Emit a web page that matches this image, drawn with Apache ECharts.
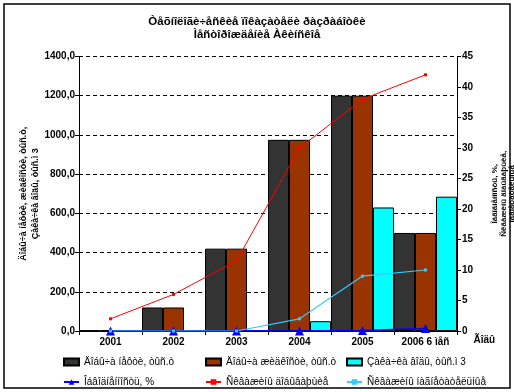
<!DOCTYPE html>
<html><head><meta charset="utf-8">
<script src="https://cdn.jsdelivr.net/npm/echarts@6/dist/echarts.min.js"></script>
<style>html,body{margin:0;padding:0;background:#fff}#c{width:514px;height:392px}</style>
</head><body><div id="c"></div>
<script>
const categories = ['2001','2002','2003','2004','2005','2006 6 ìåñ'];
const oilProd = [3, 120, 420, 975, 1200, 500];
const liquidProd = [3, 120, 420, 975, 1200, 500];
const waterInj = [0, 0, 0, 50, 630, 685];
const waterCut = [0, 0, 0, 0, 0.1, 0.4];
const prodWells = [2, 6, 11.5, 30, 38, 42];
const injWells = [0, 0, 0, 2, 9, 10];
const titleLines = ['Òåõíîëîãè÷åñêèå ïîêàçàòåëè ðàçðàáîòêè', 'Ìåñòîðîæäåíèå Àêèíñêîå'];
const names = ['Äîáû÷à íåôòè, òûñ.ò','Äîáû÷à æèäêîñòè, òûñ.ò','Çàêà÷êà âîäû, òûñ.ì 3','Îáâîäíåííîñòü, %','Ñêâàæèíû äîáûâàþùèå','Ñêâàæèíû íàãíåòàòåëüíûå'];

const F = '"Liberation Sans", Arial, sans-serif';
const chart = echarts.init(document.getElementById('c'));
const legendPos = [[58,352],[200,352],[341,352],[58,372],[200,372],[341,372]];
const legends = names.map((n,i)=>({
  data:[i<3 ? {name:n, icon:'rect'} : n], left:legendPos[i][0], top:legendPos[i][1], itemWidth:15, itemHeight:7, itemGap:4,
  textStyle:{fontFamily:F,fontSize:10,color:'#000'}, selectedMode:false
}));
const barStyle = c => ({color:c, borderColor:'#000', borderWidth:1});
chart.setOption({
  animation:false,
  graphic:[{type:'rect',shape:{x:4,y:4,width:506,height:384},style:{fill:'none',stroke:'#000',lineWidth:1.5},silent:true}],
  title:{text:titleLines.join('\n'), left:'center', top:10, textStyle:{fontFamily:F,fontSize:11.5,fontWeight:'bold',color:'#000',lineHeight:13}},
  legend:legends,
  grid:{left:79,right:57,top:56.5,bottom:61,containLabel:false,outerBoundsMode:'none'},
  xAxis:{type:'category',data:categories, name:'Ãîäû', nameLocation:'end', nameGap:6,
    nameTextStyle:{fontFamily:F,fontSize:10,fontWeight:'bold',color:'#000',verticalAlign:'top',padding:[4,0,0,0]},
    axisLine:{lineStyle:{color:'#000',width:1}}, axisTick:{show:true,length:4,lineStyle:{color:'#000'}},
    axisLabel:{interval:0,fontFamily:F,fontSize:10,fontWeight:'bold',color:'#000',margin:6}},
  yAxis:[
    {type:'value',min:0,max:1400,interval:200, position:'left',
     name:'Äîáû÷à íåôòè, æèäêîñòè, òûñ.ò,\nÇàêà÷êà âîäû, òûñ.ì 3', nameLocation:'middle', nameGap:37, nameRotate:90, nameMoveOverlap:false,
     nameTextStyle:{fontFamily:F,fontSize:9,fontWeight:'bold',color:'#000',lineHeight:12},
     axisLine:{show:true,lineStyle:{color:'#000'}}, axisTick:{show:true,length:4,lineStyle:{color:'#000'}},
     axisLabel:{fontFamily:F,fontSize:10,fontWeight:'bold',color:'#000',margin:4,formatter:v=>v.toFixed(1).replace('.',',')},
     splitLine:{show:true,lineStyle:{color:'#000',type:[4,3],width:1}}},
    {type:'value',min:0,max:45,interval:5, position:'right',
     name:'Îáâîäíåííîñòü, %,\nÑêâàæèíû äîáûâàþùèå,\níàãíåòàòåëüíûå', nameLocation:'middle', nameGap:34, nameRotate:90, nameMoveOverlap:false,
     nameTextStyle:{fontFamily:F,fontSize:8,fontWeight:'bold',color:'#000',lineHeight:8.5},
     axisLine:{show:true,lineStyle:{color:'#000'}}, axisTick:{show:true,length:4,lineStyle:{color:'#000'}},
     axisLabel:{fontFamily:F,fontSize:10,fontWeight:'bold',color:'#000',margin:5},
     splitLine:{show:false}}
  ],
  series:[
    {name:names[0],type:'bar',data:oilProd,barGap:'0%',barCategoryGap:'0%',itemStyle:barStyle('#333333')},
    {name:names[1],type:'bar',data:liquidProd,barGap:'0%',barCategoryGap:'0%',itemStyle:barStyle('#993300')},
    {name:names[2],type:'bar',data:waterInj,barGap:'0%',barCategoryGap:'0%',itemStyle:barStyle('#00FFFF')},
    {name:names[3],type:'line',yAxisIndex:1,data:waterCut,symbol:'triangle',symbolSize:9,
     lineStyle:{color:'#0000FF',width:1.5},itemStyle:{color:'#0000FF'}},
    {name:names[4],type:'line',yAxisIndex:1,data:prodWells,symbol:'rect',symbolSize:3,
     lineStyle:{color:'#FF0000',width:1},itemStyle:{color:'#FF0000'}},
    {name:names[5],type:'line',yAxisIndex:1,data:injWells,symbol:'rect',symbolSize:3,
     lineStyle:{color:'#33CCFF',width:1.2},itemStyle:{color:'#33CCFF'}}
  ]
});
</script></body></html>
